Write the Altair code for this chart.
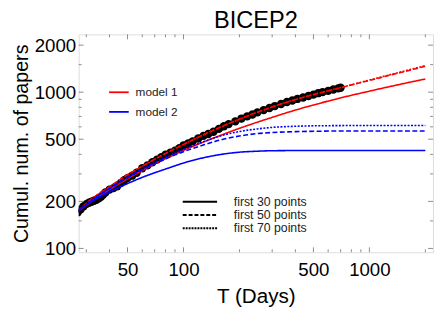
import altair as alt
import pandas as pd

# ---------------- data ----------------
# observed cumulative papers (black points)
obs_T = [27, 28, 29, 30, 31, 32, 33, 34, 35, 36, 37, 38, 40, 42, 44, 46, 48, 50, 53, 56,
         60, 64, 68, 72, 76, 80, 85, 90, 95, 100, 106, 112, 120, 128, 136, 145, 155, 165,
         175, 190, 205, 220, 235, 250, 270, 290, 310, 335, 360, 385, 410, 440, 470, 500,
         530, 560, 600, 640, 680, 700]
obs_N = [170, 178, 186, 192, 196, 199, 202, 205, 209, 214, 221, 228, 238, 243, 250, 262, 273, 282, 292, 305,
         326, 340, 356, 370, 384, 398, 410, 422, 438, 456, 470, 484, 505, 525, 540, 558, 582, 605,
         625, 650, 678, 700, 720, 742, 768, 792, 815, 840, 865, 885, 905, 925, 945, 965,
         985, 1000, 1020, 1040, 1058, 1068]

# model curves
model_T = [27, 30, 40, 50, 60, 70, 80, 100, 130, 160, 200, 250, 300, 400, 500, 700, 1000, 1500, 2000]
red_30 = [173, 189, 238, 279, 315, 347, 375, 424, 483, 532, 587, 643, 690, 768, 828, 919, 1015, 1130, 1214]
red_50 = [172, 194, 248, 296, 336, 372, 405, 463, 538, 601, 672, 745, 804, 897, 965, 1068, 1189, 1343, 1464]
red_70 = [172, 194, 248, 296, 336, 372, 405, 463, 538, 601, 672, 745, 804, 897, 965, 1070, 1195, 1355, 1478]
blue_30 = [174, 190, 230, 260, 285, 305, 322, 352, 382, 400, 413, 419, 422, 423, 423, 423, 423, 423, 423]
blue_50 = [172, 191, 241, 283, 318, 348, 374, 416, 462, 496, 524, 543, 552, 559, 562, 564, 564, 564, 564]
blue_70 = [172, 192, 243, 286, 323, 355, 384, 430, 485, 527, 560, 582, 595, 605, 609, 611, 612, 612, 612]

x_labels = [50, 100, 500, 1000]
y_labels = [100, 200, 500, 1000, 2000]
x_minor = [30, 40, 60, 70, 80, 90, 200, 300, 400, 600, 700, 800, 900, 2000]
y_minor = [150, 300, 400, 600, 700, 800, 900, 1500]

model_names = ["model 1", "model 2"]
fit_names = ["first 30 points", "first 50 points", "first 70 points"]

# ---------------- build tables ----------------
obs_df = pd.DataFrame({"T": obs_T, "N": obs_N})
rows = []
for model, fits in (("model 1", [red_30, red_50, red_70]), ("model 2", [blue_30, blue_50, blue_70])):
    for fit, vals in zip(fit_names, fits):
        for t, n in zip(model_T, vals):
            rows.append({"T": t, "N": n, "model": model, "fit": fit, "key": model + fit})
curve_df = pd.DataFrame(rows)

W, H = 361, 222
FONT = "Liberation Sans"
FRAME = "#8c8c8c"

xscale = alt.Scale(type="log", domain=[27.3, 2200], nice=False)
yscale = alt.Scale(type="log", domain=[94.5, 2345], nice=False)

xaxis = alt.Axis(values=x_labels, format="d", ticks=False, domain=False, grid=False,
                 labelFontSize=19, labelFont=FONT, labelColor="black", labelPadding=9,
                 title="T (Days)", titleFontSize=21, titleFont=FONT, titleFontWeight="normal",
                 titleColor="black", titlePadding=6)
yaxis = alt.Axis(values=y_labels, format="d", ticks=False, domain=False, grid=False,
                 labelFontSize=19, labelFont=FONT, labelColor="black", labelPadding=3,
                 title="Cumul. num. of papers", titleFontSize=20, titleFont=FONT,
                 titleFontWeight="normal", titleColor="black", titlePadding=3)

points = alt.Chart(obs_df).mark_circle(size=72, color="black", opacity=1, clip=True).encode(
    x=alt.X("T:Q", scale=xscale, axis=xaxis),
    y=alt.Y("N:Q", scale=yscale, axis=yaxis),
)

lines = alt.Chart(curve_df).mark_line(strokeWidth=1.6, clip=True, interpolate="monotone").encode(
    x=alt.X("T:Q", scale=xscale),
    y=alt.Y("N:Q", scale=yscale),
    color=alt.Color("model:N", scale=alt.Scale(domain=model_names, range=["#ff0000", "#0000ff"]), legend=None),
    strokeDash=alt.StrokeDash("fit:N", scale=alt.Scale(domain=fit_names, range=[[1, 0], [5, 2.5], [2, 1.5]]), legend=None),
    detail="key:N",
)

# frame ticks (inward)
def xticks(vals, length):
    d = pd.DataFrame({"t": vals})
    bot = alt.Chart(d).mark_rule(color=FRAME, strokeWidth=1).encode(
        x=alt.X("t:Q", scale=xscale), y=alt.value(H), y2=alt.value(H - length))
    top = alt.Chart(d).mark_rule(color=FRAME, strokeWidth=1).encode(
        x=alt.X("t:Q", scale=xscale), y=alt.value(0), y2=alt.value(length))
    return [bot, top]

def yticks(vals, length):
    d = pd.DataFrame({"t": vals})
    left = alt.Chart(d).mark_rule(color=FRAME, strokeWidth=1).encode(
        y=alt.Y("t:Q", scale=yscale), x=alt.value(0), x2=alt.value(length))
    right = alt.Chart(d).mark_rule(color=FRAME, strokeWidth=1).encode(
        y=alt.Y("t:Q", scale=yscale), x=alt.value(W), x2=alt.value(W - length))
    return [left, right]

tick_layers = xticks(x_labels, 5) + xticks(x_minor, 3) + yticks(y_labels, 5) + yticks(y_minor, 3)

# legend: models
leg1 = []
for i, (lab, col) in enumerate(zip(model_names, ["#ff0000", "#0000ff"])):
    yy = 59 + 20 * i
    leg1.append(alt.Chart(pd.DataFrame({"label": [lab]})).mark_rule(color=col, strokeWidth=1.8).encode(
        x=alt.value(31), x2=alt.value(51), y=alt.value(yy)))
    leg1.append(alt.Chart(pd.DataFrame({"label": [lab]})).mark_text(
        align="left", baseline="middle", fontSize=12, font=FONT, color="#222").encode(
        x=alt.value(58), y=alt.value(yy), text="label:N"))

# legend: fits
dashes = [[1, 0], [4, 2], [2, 1]]
leg2 = []
for i, (lab, dsh) in enumerate(zip(fit_names, dashes)):
    yy = 170.5 + 13.5 * i
    leg2.append(alt.Chart(pd.DataFrame({"label": [lab]})).mark_rule(color="black", strokeWidth=2.2, strokeDash=dsh).encode(
        x=alt.value(106), x2=alt.value(141), y=alt.value(yy)))
    leg2.append(alt.Chart(pd.DataFrame({"label": [lab]})).mark_text(
        align="left", baseline="middle", fontSize=12.5, font=FONT, color="#222").encode(
        x=alt.value(158), y=alt.value(yy), text="label:N"))

chart = alt.layer(points, lines, *tick_layers, *leg1, *leg2).properties(
    width=W, height=H,
    title=alt.TitleParams("BICEP2", fontSize=24, font=FONT, fontWeight="normal", color="black",
                          anchor="middle", offset=1),
    autosize=alt.AutoSizeParams(type="none"),
    padding={"left": 72, "top": 24, "right": 2, "bottom": 57},
).configure_view(stroke=FRAME, strokeWidth=1).configure(background="white")

chart.save("out.html", embed_options={"renderer": "svg", "actions": False})
